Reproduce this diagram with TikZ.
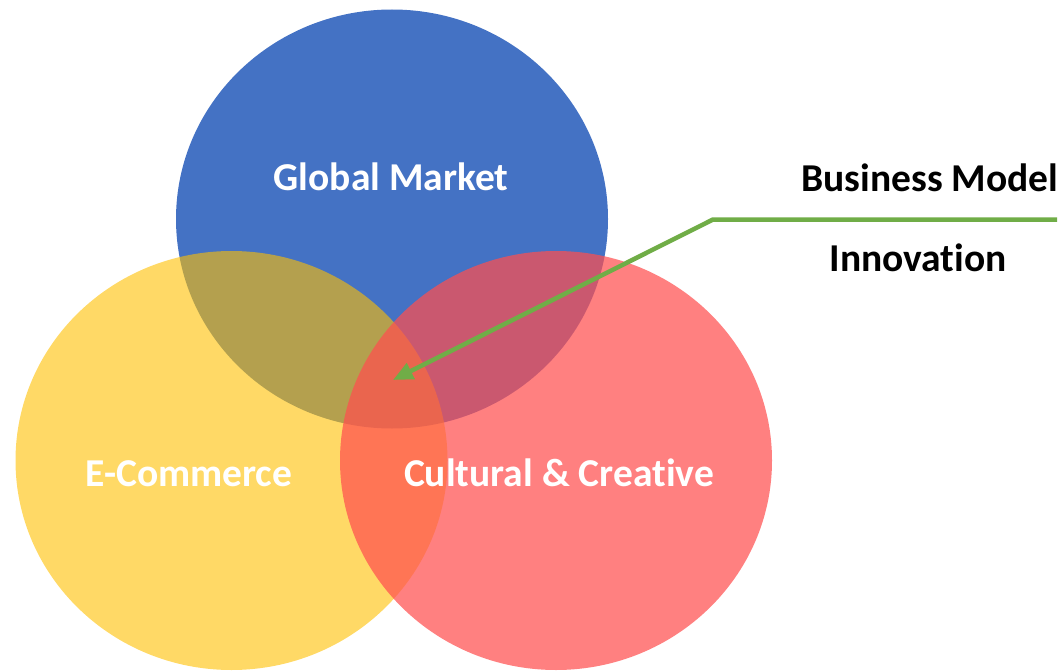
\documentclass[tikz,border=0pt]{standalone}
\usepackage{fontspec}
\setmainfont{Carlito}[Ligatures=NoCommon]
\usetikzlibrary{arrows.meta}
\definecolor{cblue}{RGB}{68,114,196}
\definecolor{cyellow}{RGB}{255,192,0}
\definecolor{cred}{RGB}{255,79,79}
\definecolor{cgreen}{RGB}{112,173,71}
\tikzset{
  setlabel/.style={anchor=base, text=white, font=\bfseries\fontsize{39.5}{44}\selectfont, inner sep=0pt},
  sidelabel/.style={anchor=base, text=black, font=\bfseries\fontsize{39.5}{44}\selectfont, inner sep=0pt},
  pointer/.style={draw=cgreen, line width=4.5pt, -{Triangle[length=20pt,width=17pt]}}
}
\begin{document}
\begin{tikzpicture}[x=1pt,y=-1pt]
\useasboundingbox (0,0) rectangle (1062,671);
\fill[cblue] (392,219) ellipse [x radius=216pt, y radius=209.5pt];
\fill[cyellow, fill opacity=0.6] (231.5,460.5) ellipse [x radius=216pt, y radius=209.5pt];
\fill[cred, fill opacity=0.72] (556,460.5) ellipse [x radius=216pt, y radius=209.5pt];
\node[setlabel] (gm) at (391,190.5) {Global Market};
\node[setlabel] (ec) at (189,486) {E-Commerce};
\node[setlabel] (cc) at (559,486) {Cultural \& Creative};
\node[sidelabel] (bm) at (930,192) {Business Model};
\node[sidelabel] (inn) at (918,271) {Innovation};
\coordinate (lineend) at (1057,219.5);
\coordinate (bend) at (713,219.5);
\coordinate (tip) at (393,380);
\draw[pointer] (lineend) -- (bend) -- (tip);
\end{tikzpicture}
\end{document}
